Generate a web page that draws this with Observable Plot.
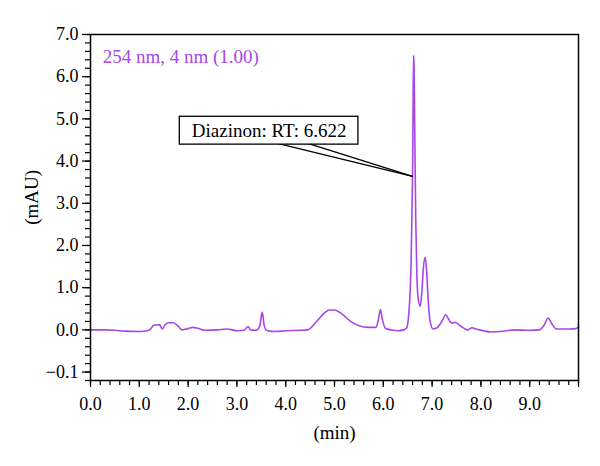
<!DOCTYPE html>
<html>
<head>
<meta charset="utf-8">
<script src="https://cdn.jsdelivr.net/npm/d3@7"></script>
<script src="https://cdn.jsdelivr.net/npm/@observablehq/plot@0.6"></script>
<style>
  html, body { margin: 0; padding: 0; background: #fff; }
  #chart { width: 600px; height: 466px; }
</style>
</head>
<body>
<div id="chart"></div>
<script>
// Retention time (min) and absorbance (mAU)
const time = [0.0,0.3,0.5,0.7,1.0,1.2,1.25,1.3,1.42,1.47,1.53,1.6,1.7,1.8,1.88,2.0,2.1,2.2,2.35,2.6,2.8,3.0,3.15,3.23,3.28,3.4,3.47,3.52,3.56,3.62,3.8,4.0,4.3,4.45,4.6,4.75,4.9,5.0,5.1,5.2,5.33,5.5,5.7,5.85,5.9,5.94,5.98,6.05,6.2,6.3,6.42,6.48,6.52,6.55,6.57,6.59,6.60,6.61,6.62,6.63,6.645,6.665,6.69,6.72,6.76,6.79,6.82,6.86,6.89,6.92,6.96,7.02,7.1,7.2,7.28,7.34,7.4,7.48,7.55,7.65,7.72,7.82,7.9,8.05,8.2,8.4,8.7,9.0,9.2,9.3,9.38,9.45,9.55,9.8,9.95,10.0];
const absorbance = [0.0,0.0,-0.01,-0.03,-0.04,-0.01,0.05,0.11,0.12,0.02,0.12,0.17,0.17,0.08,0.0,0.03,0.06,0.04,-0.01,0.0,0.02,-0.02,-0.01,0.08,0.0,-0.01,0.1,0.42,0.1,-0.02,-0.04,-0.02,-0.01,0.0,0.15,0.35,0.47,0.47,0.42,0.33,0.2,0.1,0.06,0.06,0.25,0.48,0.25,0.03,-0.01,-0.02,0.0,0.05,0.35,0.9,1.6,3.0,3.7,5.2,6.5,6.3,4.6,2.6,1.2,0.7,0.56,0.9,1.45,1.72,1.35,0.7,0.2,0.02,0.05,0.2,0.36,0.25,0.16,0.18,0.12,0.04,0.0,0.05,0.02,-0.02,-0.05,-0.04,0.0,-0.01,0.0,0.12,0.28,0.15,0.02,0.02,0.03,0.07];

// Axis ticks and labels (the original figure labels the lowest tick "−0.1")
const xTicks = [0,1,2,3,4,5,6,7,8,9];
const xLabels = ["0.0","1.0","2.0","3.0","4.0","5.0","6.0","7.0","8.0","9.0"];
const yTicks = [-1,0,1,2,3,4,5,6,7];
const yLabels = ["\u22120.1","0.0","1.0","2.0","3.0","4.0","5.0","6.0","7.0"];

// Axis titles and their anchor positions (data units)
const xTitle = ["(min)"];
const xTitlePos = {t: 5.0, v: -2.45};
const yTitle = ["(mAU)"];
const yTitlePos = {t: -1.2, v: 3.14};

// Annotation
const legendText = ["254 nm, 4 nm (1.00)"];
const legendPos = {t: 0.25, v: 6.47};
const calloutText = ["Diazinon: RT: 6.622"];
const calloutTarget = {t: 6.60, v: 3.64};
const calloutBox = {t1: 1.83, t2: 5.49, v1: 4.39, v2: 5.05};
const calloutFeet = [{t: 3.58, v: 4.49}, {t: 4.34, v: 4.46}];

const color = "#a846ea";
const data = time.map((t, i) => ({t, v: absorbance[i]}));
const xMinor = d3.range(0, 10.0001, 0.2).map(d => +d.toFixed(1));
const yMinor = d3.range(-1.2, 7.0001, 0.2).map(d => +d.toFixed(1));
const xLab = new Map(xTicks.map((d, i) => [d, xLabels[i]]));
const yLab = new Map(yTicks.map((d, i) => [d, yLabels[i]]));
const calloutLines = calloutFeet.map(f => ({x1: f.t, y1: f.v, x2: calloutTarget.t, y2: calloutTarget.v}));

const chart = Plot.plot({
  width: 600,
  height: 466,
  marginLeft: 90,
  marginRight: 22,
  marginTop: 34,
  marginBottom: 86,
  style: {fontFamily: "'Liberation Serif', 'DejaVu Serif', serif", fontSize: "18px", color: "black", background: "white"},
  x: {domain: [0, 10]},
  y: {domain: [-1.2, 7.0]},
  marks: [
    Plot.axisX(xMinor, {tickSize: 5, tickFormat: () => "", label: null, strokeWidth: 1.2}),
    Plot.axisX(xTicks.concat([10]), {tickSize: 7, tickPadding: 10, tickFormat: d => xLab.get(d) ?? "", label: null, strokeWidth: 1.2, fontSize: 18}),
    Plot.axisY(yMinor, {tickSize: 5, tickFormat: () => "", label: null, strokeWidth: 1.2}),
    Plot.axisY(yTicks, {tickSize: 8, tickPadding: 4, tickFormat: d => yLab.get(d), label: null, strokeWidth: 1.2, fontSize: 18}),
    Plot.line(data, {x: "t", y: "v", stroke: color, strokeWidth: 1.6, curve: "monotone-x"}),
    Plot.frame({stroke: "black", strokeWidth: 1.5}),
    Plot.link(calloutLines, {x1: "x1", y1: "y1", x2: "x2", y2: "y2", stroke: "black", strokeWidth: 1.3}),
    Plot.rect([calloutBox], {x1: "t1", x2: "t2", y1: "v1", y2: "v2", fill: "white", stroke: "black", strokeWidth: 1.3}),
    Plot.text(calloutText, {x: (calloutBox.t1 + calloutBox.t2) / 2, y: (calloutBox.v1 + calloutBox.v2) / 2, text: d => d, fontSize: 19, fill: "black"}),
    Plot.text(legendText, {x: legendPos.t, y: legendPos.v, text: d => d, textAnchor: "start", fontSize: 19, fill: color}),
    Plot.text(yTitle, {x: yTitlePos.t, y: yTitlePos.v, text: d => d, rotate: -90, fontSize: 19, fill: "black"}),
    Plot.text(xTitle, {x: xTitlePos.t, y: xTitlePos.v, text: d => d, fontSize: 19, fill: "black"})
  ]
});
document.getElementById("chart").appendChild(chart);
</script>
</body>
</html>
